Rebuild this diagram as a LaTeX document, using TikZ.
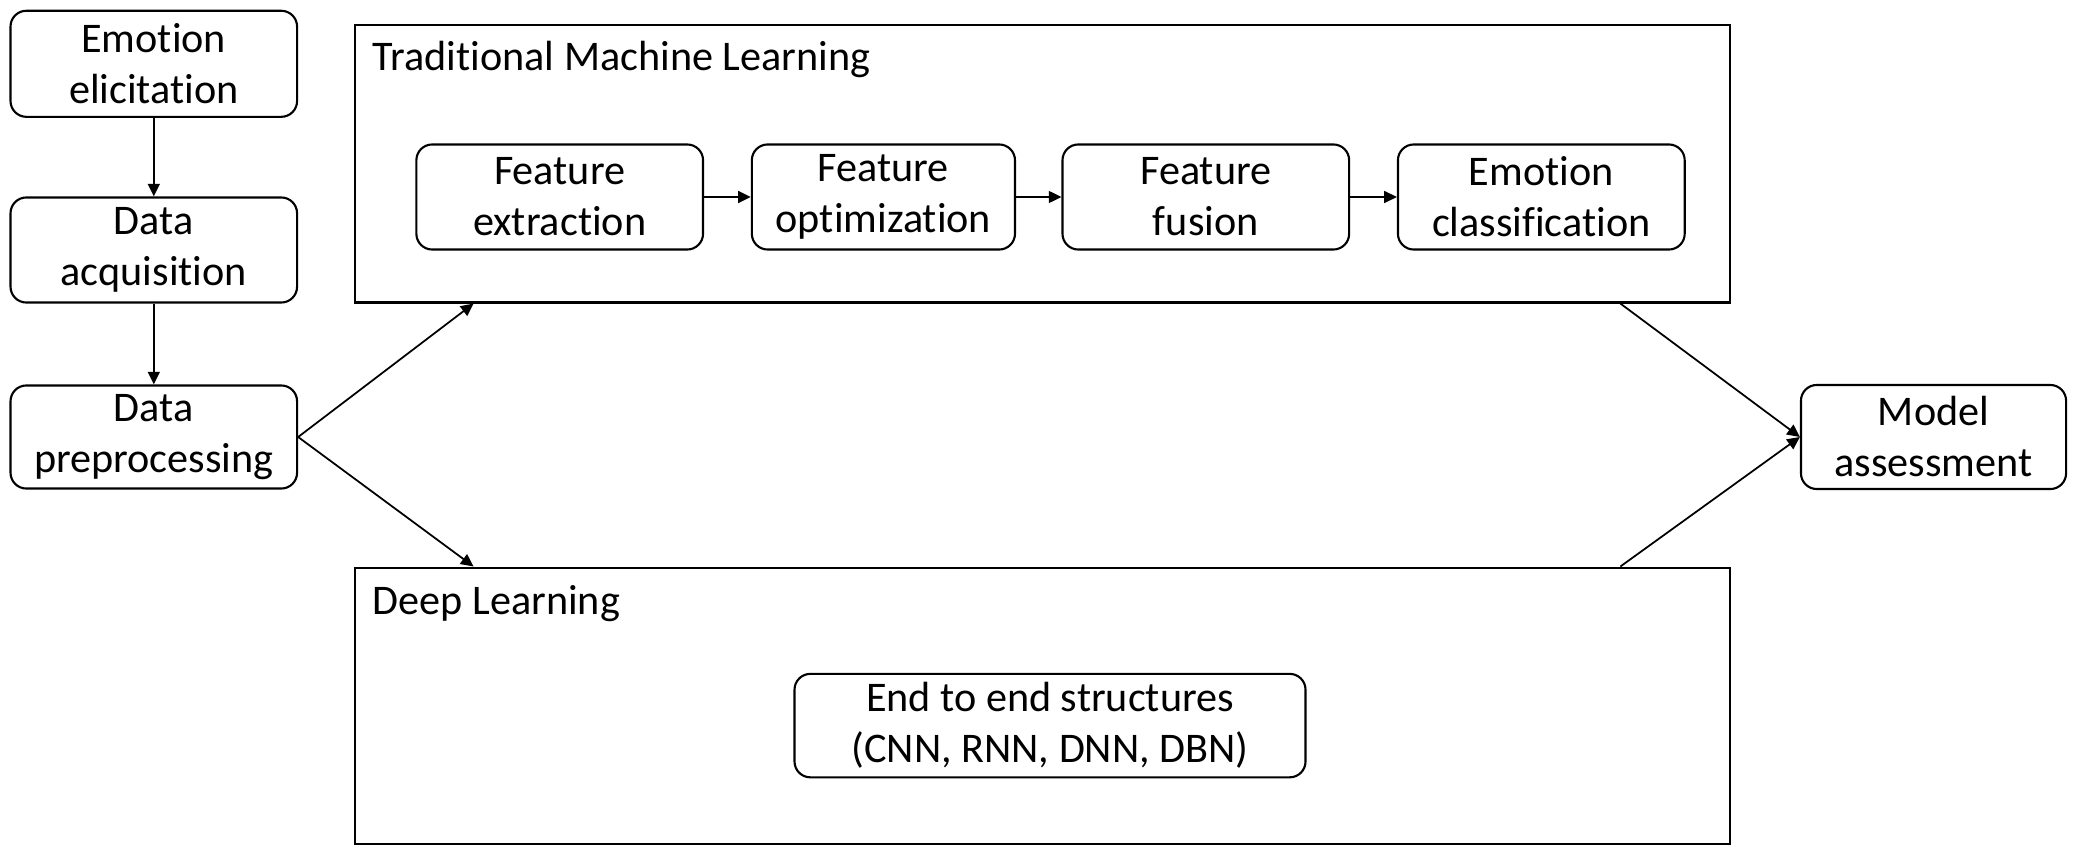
\documentclass[tikz,border=0pt]{standalone}
\usepackage{fontspec}
\setmainfont{Carlito}[Ligatures=NoCommon]
\usetikzlibrary{arrows.meta}
\newcommand{\topstrut}{\rule{0pt}{11.7pt}}
\newcommand{\botstrut}{\rule[-0.4pt]{0pt}{0.4pt}}
\begin{document}
\begin{tikzpicture}[x=0.01cm,y=-0.01cm,
  every node/.style={font=\fontsize{12}{14.5}\selectfont},
  rbox/.style={draw, line width=0.6pt, rounded corners=4.5pt, align=center, inner sep=0pt,
    execute at begin node=\topstrut, execute at end node=\botstrut},
  frame/.style={draw, line width=0.6pt, inner sep=0pt},
  conn/.style={line width=0.5pt, -{Triangle[length=3.6pt,width=3.4pt]}},
  title/.style={anchor=base west, inner sep=0pt}]
\useasboundingbox (0,0) rectangle (2080,858);
% left column
\node[rbox, minimum width=2.864cm, minimum height=1.06cm] (ee) at (153.8,63.8) {Emotion\\elicitation};
\node[rbox, minimum width=2.864cm, minimum height=1.05cm] (da) at (153.8,250) {Data\\acquisition};
\node[rbox, minimum width=2.864cm, minimum height=1.03cm] (dp) at (153.8,437) {Data\\preprocessing};
% containers
\node[frame, minimum width=13.743cm, minimum height=2.772cm] (tml) at (1042.6,163.8) {};
\node[frame, minimum width=13.743cm, minimum height=2.759cm] (dl) at (1042.6,705.6) {};
\node[title] (tmlt) at (372,71) {Traditional Machine Learning};
\node[title] (dlt) at (372,614) {Deep Learning};
% inner boxes
\node[rbox, minimum width=2.865cm, minimum height=1.05cm] (fe) at (559.7,197) {Feature\\extraction};
\node[rbox, minimum width=2.63cm, minimum height=1.05cm] (fo) at (883.4,197) {Feature\\optimization};
\node[rbox, minimum width=2.865cm, minimum height=1.05cm] (ff) at (1205.8,197) {Feature\\fusion};
\node[rbox, minimum width=2.866cm, minimum height=1.05cm] (ec) at (1541.3,197) {Emotion\\classification};
\node[rbox, minimum width=5.107cm, minimum height=1.034cm] (e2e) at (1050,725.6) {End to end structures\\(CNN, RNN, DNN, DBN)};
\node[rbox, minimum width=2.65cm, minimum height=1.04cm] (ma) at (1933.5,437) {Model\\assessment};
% connection points
\coordinate (tmlin) at ([xshift=1.195cm]tml.south west);
\coordinate (dlin) at ([xshift=1.195cm]dl.north west);
\coordinate (tmlout) at ([xshift=-1.108cm]tml.south east);
\coordinate (dlout) at ([xshift=-1.108cm]dl.north east);
% arrows
\draw[conn] (ee) -- (da);
\draw[conn] (da) -- (dp);
\draw[conn] (fe) -- (fo);
\draw[conn] (fo) -- (ff);
\draw[conn] (ff) -- (ec);
\draw[conn] (dp.east) -- (tmlin);
\draw[conn] (dp.east) -- (dlin);
\draw[conn] (tmlout) -- (ma.west);
\draw[conn] (dlout) -- (ma.west);
\end{tikzpicture}
\end{document}
